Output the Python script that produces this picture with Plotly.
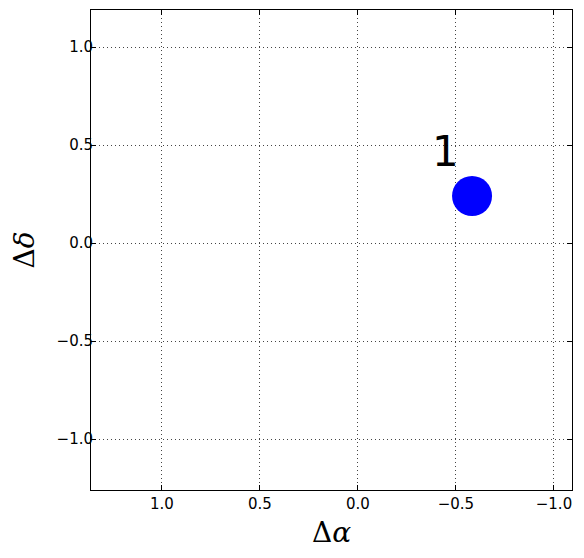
import plotly.graph_objects as go

# offsets of the source relative to the reference position
delta_alpha = [-0.582]
delta_delta = [0.24]
labels = ["1"]

x_ticks = [1.0, 0.5, 0.0, -0.5, -1.0]
y_ticks = [1.0, 0.5, 0.0, -0.5, -1.0]

fig = go.Figure()

fig.add_trace(go.Scatter(
    x=delta_alpha,
    y=delta_delta,
    mode='markers',
    marker=dict(color='#0000ff', size=40, line=dict(width=0)),
    showlegend=False,
))

for xa, yd, lab in zip(delta_alpha, delta_delta, labels):
    fig.add_annotation(
        x=xa, y=yd, text=lab, showarrow=False,
        xanchor='right', yanchor='bottom',
        xshift=-11, yshift=18,
        font=dict(family='DejaVu Sans', size=42, color='black'),
    )

axis_style = dict(
    showline=True, linecolor='black', linewidth=1, mirror='ticks',
    ticks='inside', ticklen=5, tickcolor='black', tickwidth=1,
    showgrid=True, gridcolor='#444444', gridwidth=1, griddash='1px,3px',
    zeroline=False,
    tickfont=dict(family='DejaVu Sans', size=15, color='black'),
    tickformat='.1f',
)

# the page body adds 8px around the figure, so the figure is 8px smaller
fig.update_layout(
    width=576, height=550,
    margin=dict(l=83, r=12, t=2, b=68),
    plot_bgcolor='white', paper_bgcolor='white',
    xaxis=dict(
        range=[1.362, -1.092], tickvals=x_ticks,
        title=dict(text='Δ<i>α</i>', font=dict(family='DejaVu Serif', size=28, color='black'), standoff=10),
        **axis_style,
    ),
    yaxis=dict(
        range=[-1.26, 1.189], tickvals=y_ticks, ticklabelstandoff=-6,
        title=dict(text='Δ<i>δ</i>', font=dict(family='DejaVu Serif', size=28, color='black'), standoff=14),
        **axis_style,
    ),
)

fig.write_html("out.html")
